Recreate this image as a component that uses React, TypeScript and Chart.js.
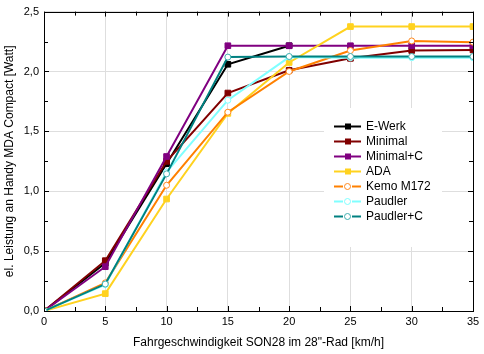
import React, { useEffect, useRef } from "react";
import { Chart, registerables } from "chart.js";

Chart.register(...registerables);

const speeds = [0, 5, 10, 15, 20, 25, 30, 35];
const seriesNames = ["E-Werk", "Minimal", "Minimal+C", "ADA", "Kemo M172", "Paudler", "Paudler+C"];
const eWerk = [0, 0.4, 1.23, 2.06, 2.215];
const minimal = [0, 0.42, 1.25, 1.82, 2.01, 2.11, 2.175, 2.18];
const minimalC = [0, 0.37, 1.29, 2.215, 2.215, 2.215, 2.215, 2.215];
const ada = [0, 0.145, 0.935, 1.65, 2.075, 2.375, 2.375, 2.375];
const kemo = [0, 0.235, 1.05, 1.66, 2.0, 2.175, 2.255, 2.245];
const paudler = [0, 0.22, 1.16, 1.76, 2.12, 2.115, 2.115, 2.115];
const paudlerC = [0, 0.225, 1.145, 2.12, 2.125, 2.125, 2.125, 2.125];
const xTickValues = [0, 5, 10, 15, 20, 25, 30, 35];
const yTickValues = [0, 0.5, 1.0, 1.5, 2.0, 2.5];
const xTitle = 'Fahrgeschwindigkeit SON28 im 28"-Rad [km/h]';
const yTitle = "el. Leistung an Handy MDA Compact [Watt]";

const FONT = "Arial, 'Liberation Sans', sans-serif";

type Style = { color: string; point: string; style: "rect" | "circle"; fill: string };
const styles: Style[] = [
  { color: "#000000", point: "#000000", style: "rect", fill: "#000000" },
  { color: "#800000", point: "#800000", style: "rect", fill: "#800000" },
  { color: "#800080", point: "#800080", style: "rect", fill: "#800080" },
  { color: "#ffd21f", point: "#ffd21f", style: "rect", fill: "#ffd21f" },
  { color: "#ff8000", point: "#ff8a20", style: "circle", fill: "#ffffff" },
  { color: "#80ffff", point: "#80ffff", style: "circle", fill: "#ffffff" },
  { color: "#008080", point: "#40b0b0", style: "circle", fill: "#ffffff" },
];

const allValues = [eWerk, minimal, minimalC, ada, kemo, paudler, paudlerC];

const framePlugin = {
  id: "frameTicksLegend",
  afterDraw(chart: any) {
    const { ctx, chartArea } = chart;
    const { left, right, top, bottom } = chartArea;
    const xs = chart.scales.x;
    const ys = chart.scales.y;
    ctx.save();
    ctx.strokeStyle = "#000";
    ctx.lineWidth = 1;
    // ticks inward
    ctx.beginPath();
    for (let v = 0; v <= 35; v += 2.5) {
      const px = Math.round(xs.getPixelForValue(v)) + 0.5;
      const len = v % 5 === 0 ? 5 : 4;
      ctx.moveTo(px, bottom);
      ctx.lineTo(px, bottom - len);
      ctx.moveTo(px, top);
      ctx.lineTo(px, top + len);
    }
    for (let v = 0; v <= 2.5001; v += 0.25) {
      const py = Math.round(ys.getPixelForValue(v)) + 0.5;
      const major = Math.abs(v / 0.5 - Math.round(v / 0.5)) < 1e-6;
      const len = major ? 5 : 4;
      ctx.moveTo(left, py);
      ctx.lineTo(left + len, py);
      ctx.moveTo(right, py);
      ctx.lineTo(right - len, py);
    }
    ctx.stroke();
    ctx.strokeRect(Math.round(left) + 0.5, Math.round(top) + 0.5, Math.round(right - left), Math.round(bottom - top));

    // legend
    const bx = 324, by = 108, bw = 118, bh = 139;
    ctx.fillStyle = "#ffffff";
    ctx.fillRect(bx, by, bw, bh);
    ctx.font = `12px ${FONT}`;
    ctx.textBaseline = "middle";
    ctx.textAlign = "left";
    chart.data.datasets.forEach((ds: any, i: number) => {
      const st = styles[i];
      const y = 126.5 + i * 15;
      ctx.strokeStyle = st.color;
      ctx.lineWidth = 2;
      ctx.beginPath();
      ctx.moveTo(334, y);
      ctx.lineTo(361, y);
      ctx.stroke();
      ctx.lineWidth = 1;
      ctx.fillStyle = st.fill;
      ctx.strokeStyle = st.point;
      if (st.style === "rect") {
        ctx.fillStyle = st.point;
        ctx.fillRect(345, y - 3, 6, 6);
      } else {
        ctx.fillStyle = "#ffffff";
        ctx.fillRect(343, y - 4, 9, 8);
        ctx.beginPath();
        ctx.arc(347.5, y, 3, 0, Math.PI * 2);
        ctx.fill();
        ctx.stroke();
      }
      ctx.fillStyle = "#000";
      ctx.fillText(ds.label, 366, y);
    });
    ctx.restore();
  },
};

export default function App() {
  const canvasRef = useRef<HTMLCanvasElement | null>(null);

  useEffect(() => {
    if (!canvasRef.current) return;
    const datasets = allValues.map((vals, i) => {
      const st = styles[i];
      return {
        label: seriesNames[i],
        data: vals.map((v, j) => ({ x: speeds[j], y: v })),
        borderColor: st.color,
        backgroundColor: st.fill,
        pointBackgroundColor: st.fill,
        pointBorderColor: st.point,
        pointStyle: st.style,
        pointRadius: st.style === "rect" ? 4 : 3,
        pointBorderWidth: 1,
        borderWidth: 2,
        tension: 0,
        fill: false,
        order: 10 - i,
      };
    });
    const chart = new Chart(canvasRef.current, {
      type: "line",
      data: { datasets },
      plugins: [framePlugin],
      options: {
        animation: false,
        responsive: false,
        devicePixelRatio: 1,
        layout: { padding: { top: 10, right: 11, left: 2, bottom: 4 } },
        plugins: { legend: { display: false }, tooltip: { enabled: false } },
        scales: {
          x: {
            type: "linear",
            min: 0,
            max: 35,
            afterBuildTicks: (s: any) => {
              s.ticks = xTickValues.map((v) => ({ value: v }));
            },
            afterFit: (s: any) => {
              s.height = 39;
            },
            ticks: {
              color: "#000",
              font: { family: FONT, size: 11 },
              padding: 4,
              maxRotation: 0,
              callback: (v: any) => String(v),
            },
            grid: { color: "#dedede", drawTicks: false, lineWidth: 1 },
            border: { display: false },
            title: {
              display: true,
              text: xTitle,
              color: "#000",
              font: { family: FONT, size: 12 },
              padding: { top: 0, bottom: 0 },
            },
          },
          y: {
            type: "linear",
            min: 0,
            max: 2.5,
            afterBuildTicks: (s: any) => {
              s.ticks = yTickValues.map((v) => ({ value: v }));
            },
            afterFit: (s: any) => {
              s.width = 42;
            },
            ticks: {
              color: "#000",
              font: { family: FONT, size: 11 },
              padding: 5,
              callback: (v: any) => Number(v).toFixed(1).replace(".", ","),
            },
            grid: { color: "#dedede", drawTicks: false, lineWidth: 1 },
            border: { display: false },
            title: {
              display: true,
              text: yTitle,
              color: "#000",
              font: { family: FONT, size: 12 },
              padding: { top: 0, bottom: 0 },
            },
          },
        },
      },
    } as any);
    return () => chart.destroy();
  }, []);

  return (
    <div style={{ position: "fixed", left: 0, top: 0, width: 484, height: 354, background: "#fff" }}>
      <canvas ref={canvasRef} width={484} height={354} style={{ display: "block" }} />
    </div>
  );
}
